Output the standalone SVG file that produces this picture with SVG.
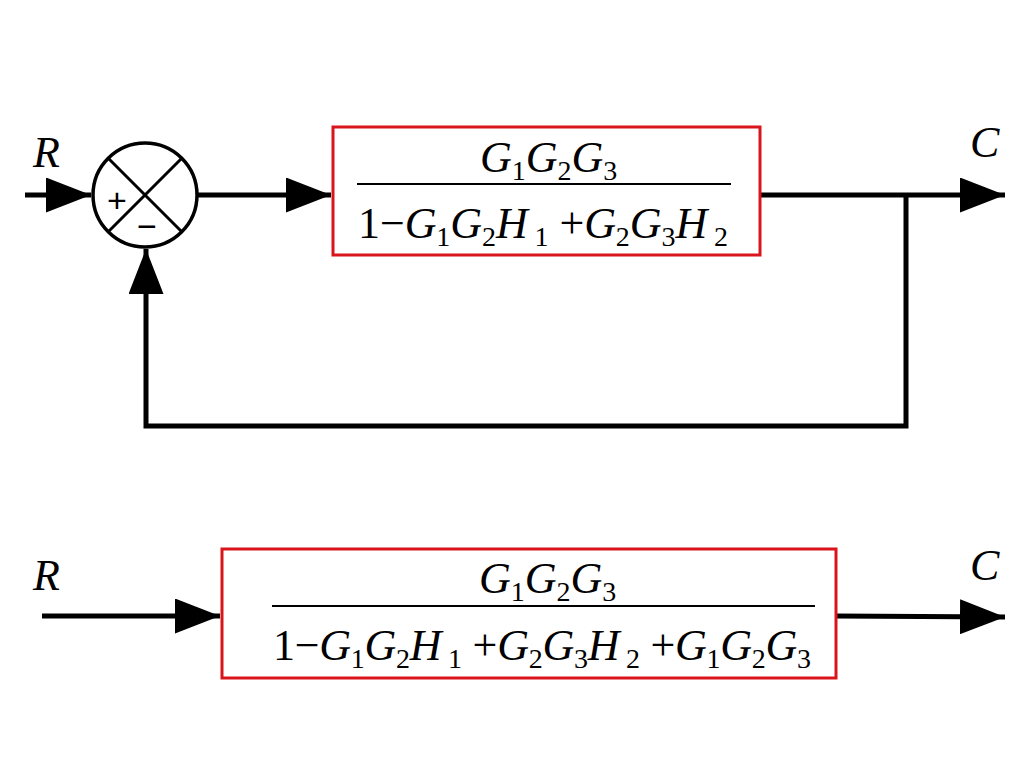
<svg xmlns="http://www.w3.org/2000/svg" width="1024" height="768" viewBox="0 0 1024 768">
<style>
.ln{stroke:#000;stroke-width:5;fill:none}
.box{fill:#fff;stroke:#d9141b;stroke-width:3}
.t{font-family:'Liberation Serif','Times New Roman',Times,serif;font-size:44px;font-style:italic;fill:#000}
.s{font-style:normal;font-size:28px}
.u{font-style:normal}
.sg{font-family:'Liberation Sans',Arial,sans-serif;font-size:34px;fill:#000}
</style>
<defs><marker id="a" markerWidth="9" markerHeight="7" refX="9" refY="3.5" orient="auto" markerUnits="strokeWidth"><path d="M0,0L9,3.5L0,7z" fill="#000"/></marker></defs>
<rect width="1024" height="768" fill="#fff"/>
<g id="connectors">
<line class="ln" x1="25" y1="195" x2="91" y2="195" marker-end="url(#a)"/>
<line class="ln" x1="197" y1="195" x2="331" y2="195" marker-end="url(#a)"/>
<line class="ln" x1="760" y1="195" x2="1005" y2="195" marker-end="url(#a)"/>
<polyline class="ln" points="906,195 906,426 146,426 146,249" marker-end="url(#a)"/>
<line class="ln" x1="42" y1="616" x2="220" y2="616" marker-end="url(#a)"/>
<line class="ln" x1="836" y1="616" x2="1005" y2="617" marker-end="url(#a)"/>
</g>
<g id="sum">
<circle cx="145" cy="195" r="52" fill="#fff" stroke="#000" stroke-width="3.5"/>
<line x1="108" y1="158" x2="182" y2="232" stroke="#000" stroke-width="3"/>
<line x1="182" y1="158" x2="108" y2="232" stroke="#000" stroke-width="3"/>
<text class="sg" x="117" y="212" text-anchor="middle">+</text>
<text class="sg" x="147" y="238" text-anchor="middle">−</text>
</g>
<g id="labels">
<text class="t" x="33" y="167">R</text>
<text class="t" x="970" y="157">C</text>
<text class="t" x="33" y="590">R</text>
<text class="t" x="970" y="580">C</text>
</g>
<g id="block1">
<rect class="box" x="333" y="127" width="427" height="128"/>
<line x1="357" y1="184" x2="731" y2="184" stroke="#000" stroke-width="2"/>
<text class="t" x="480" y="172">G<tspan class="s" dy="8">1</tspan><tspan dy="-8">G</tspan><tspan class="s" dy="8">2</tspan><tspan dy="-8">G</tspan><tspan class="s" dy="8">3</tspan></text>
<text class="t" x="358" y="238" textLength="370" lengthAdjust="spacing"><tspan class="u">1−</tspan>G<tspan class="s" dy="8">1</tspan><tspan dy="-8">G</tspan><tspan class="s" dy="8">2</tspan><tspan dy="-8">H</tspan><tspan class="s" dy="8"> 1</tspan><tspan class="u" dy="-8"> +</tspan>G<tspan class="s" dy="8">2</tspan><tspan dy="-8">G</tspan><tspan class="s" dy="8">3</tspan><tspan dy="-8">H</tspan><tspan class="s" dy="8"> 2</tspan></text>
</g>
<g id="block2">
<rect class="box" x="222" y="549" width="614" height="129"/>
<line x1="272" y1="606" x2="815" y2="606" stroke="#000" stroke-width="2"/>
<text class="t" x="479" y="593">G<tspan class="s" dy="8">1</tspan><tspan dy="-8">G</tspan><tspan class="s" dy="8">2</tspan><tspan dy="-8">G</tspan><tspan class="s" dy="8">3</tspan></text>
<text class="t" x="273" y="660" textLength="538" lengthAdjust="spacing"><tspan class="u">1−</tspan>G<tspan class="s" dy="8">1</tspan><tspan dy="-8">G</tspan><tspan class="s" dy="8">2</tspan><tspan dy="-8">H</tspan><tspan class="s" dy="8"> 1</tspan><tspan class="u" dy="-8"> +</tspan>G<tspan class="s" dy="8">2</tspan><tspan dy="-8">G</tspan><tspan class="s" dy="8">3</tspan><tspan dy="-8">H</tspan><tspan class="s" dy="8"> 2</tspan><tspan class="u" dy="-8"> +</tspan>G<tspan class="s" dy="8">1</tspan><tspan dy="-8">G</tspan><tspan class="s" dy="8">2</tspan><tspan dy="-8">G</tspan><tspan class="s" dy="8">3</tspan></text>
</g>
</svg>
